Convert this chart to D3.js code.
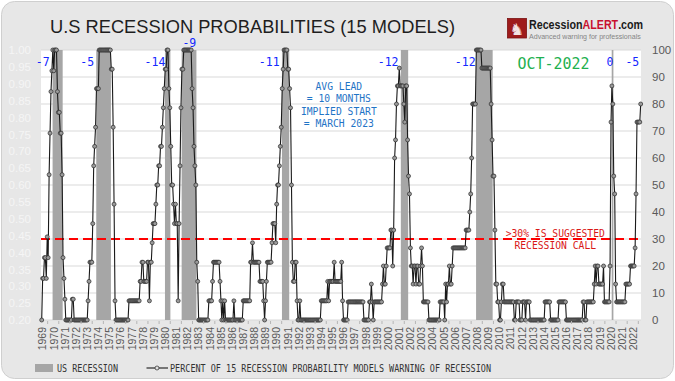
<!DOCTYPE html>
<html><head><meta charset="utf-8">
<script src="https://cdn.jsdelivr.net/npm/d3@7"></script>
<style>html,body{margin:0;padding:0;background:#fff;} svg{display:block;}</style>
</head><body><svg id="c" width="675" height="381"></svg>
<script>
// ---------------- DATA (monthly, % of models warning) ----------------
const startMonth = "1969-01";
const pct1969 = [0, 15.4, 15.4, 23.1, 23.1, 15.4, 30.8, 23.1, 53.8, 69.2, 84.6, 92.3];
const pct1970s = [
  100, 92.3, 100, 100, 100, 84.6, 76.9, 76.9, 69.2, 69.2, 53.8, 23.1,   // 1970
  15.4, 7.7, 0, 0, 0, 0, 0, 0, 0, 7.7, 7.7, 0,                         // 1971
  0, 0, 0, 0, 0, 0, 0, 0, 0, 0, 0, 0,                                  // 1972
  0, 0, 7.1, 14.3, 21.4, 21.4, 21.4, 35.7, 57.1, 64.3, 71.4, 85.7,     // 1973
  85.7, 85.7, 100, 100, 100, 100, 100, 100, 100, 100, 100, 100,        // 1974
  100, 100, 100, 92.9, 92.9, 71.4, 42.9, 7.1, 0, 0, 0, 0,              // 1975
  0, 0, 0, 0, 0, 0, 0, 0, 0, 0, 7.1, 7.1,                              // 1976
  7.1, 7.1, 7.1, 7.1, 7.1, 7.1, 7.1, 7.1, 7.1, 7.1, 14.3, 14.3,        // 1977
  21.4, 21.4, 14.3, 14.3, 14.3, 14.3, 21.4, 21.4, 7.1, 21.4, 21.4, 28.6, // 1978
  35.7, 35.7, 35.7, 42.9, 50, 50, 57.1, 57.1, 64.3, 64.3, 71.4, 78.6   // 1979
];
const pct1980s = [
  85.7, 92.9, 92.9, 100, 100, 85.7, 78.6, 64.3, 50, 50, 42.9, 35.7,    // 1980
  42.9, 35.7, 35.7, 7.1, 35.7, 57.1, 78.6, 92.9, 92.9, 100, 100, 100,  // 1981
  100, 100, 100, 100, 100, 100, 85.7, 78.6, 64.3, 57.1, 50, 21.4,      // 1982
  14.3, 0, 0, 0, 0, 0, 0, 0, 0, 0, 0, 0,                               // 1983
  7.1, 7.1, 7.1, 7.1, 14.3, 21.4, 21.4, 21.4, 21.4, 21.4, 21.4, 21.4,  // 1984
  14.3, 7.1, 0, 7.1, 0, 7.1, 0, 0, 0, 0, 0, 0,                         // 1985
  0, 0, 0, 7.1, 0, 0, 0, 0, 0, 0, 0, 0,                                // 1986
  0, 7.1, 7.1, 7.1, 7.1, 7.1, 7.1, 7.1, 7.1, 21.4, 21.4, 28.6,         // 1987
  21.4, 21.4, 21.4, 21.4, 21.4, 21.4, 21.4, 14.3, 14.3, 14.3, 14.3, 7.1, // 1988
  0, 7.1, 14.3, 21.4, 21.4, 21.4, 21.4, 21.4, 28.6, 35.7, 35.7, 35.7   // 1989
];
const pct1990s = [
  28.6, 42.9, 50, 50, 57.1, 64.3, 71.4, 85.7, 92.9, 100, 100, 100,     // 1990
  100, 92.9, 92.9, 85.7, 78.6, 50, 21.4, 14.3, 14.3, 21.4, 21.4, 7.1,  // 1991
  0, 0, 7.1, 0, 0, 0, 0, 0, 0, 0, 0, 0,                                // 1992
  0, 0, 0, 0, 0, 0, 0, 0, 0, 0, 0, 0,                                  // 1993
  0, 7.1, 7.1, 7.1, 7.1, 7.1, 7.1, 7.1, 14.3, 7.1, 14.3, 14.3,         // 1994
  14.3, 14.3, 14.3, 21.4, 14.3, 14.3, 14.3, 14.3, 14.3, 14.3, 14.3, 21.4, // 1995
  7.1, 0, 0, 0, 0, 0, 6.7, 6.7, 6.7, 6.7, 6.7, 6.7,                    // 1996
  6.7, 6.7, 6.7, 6.7, 6.7, 6.7, 6.7, 6.7, 6.7, 6.7, 6.7, 0,            // 1997
  0, 0, 0, 0, 0, 6.7, 6.7, 13.3, 6.7, 0, 6.7, 6.7,                     // 1998
  6.7, 6.7, 6.7, 6.7, 6.7, 6.7, 6.7, 13.3, 20, 13.3, 13.3, 20          // 1999
];
const pct2000s = [
  26.7, 26.7, 26.7, 26.7, 33.3, 33.3, 20, 33.3, 60, 66.7, 80, 86.7,    // 2000
  86.7, 93.3, 86.7, 86.7, 86.7, 86.7, 80, 73.3, 86.7, 86.7, 66.7, 53.3, // 2001
  46.7, 26.7, 20, 20, 13.3, 20, 20, 13.3, 20, 20, 13.3, 13.3,          // 2002
  20, 26.7, 20, 6.7, 6.7, 6.7, 6.7, 6.7, 6.7, 0, 0, 0,                 // 2003
  0, 0, 0, 0, 0, 0, 0, 0, 0, 6.7, 6.7, 6.7,                            // 2004
  6.7, 6.7, 0, 13.3, 6.7, 13.3, 13.3, 20, 13.3, 13.3, 20, 26.7,        // 2005
  26.7, 26.7, 26.7, 26.7, 26.7, 26.7, 26.7, 26.7, 26.7, 26.7, 26.7, 26.7, // 2006
  26.7, 33.3, 33.3, 33.3, 33.3, 40, 46.7, 60, 80, 80, 80, 80,          // 2007
  100, 100, 100, 100, 100, 100, 93.3, 93.3, 93.3, 93.3, 93.3, 93.3,    // 2008
  93.3, 93.3, 93.3, 93.3, 80, 66.7, 53.3, 53.3, 33.3, 13.3, 13.3, 6.7  // 2009
];
const pct2010s = [
  6.7, 0, 0, 6.7, 13.3, 13.3, 6.7, 6.7, 6.7, 6.7, 6.7, 6.7,            // 2010
  6.7, 6.7, 6.7, 6.7, 6.7, 0, 0, 6.7, 6.7, 6.7, 6.7, 0,                // 2011
  0, 0, 6.7, 6.7, 6.7, 0, 6.7, 6.7, 6.7, 6.7, 0, 0,                    // 2012
  0, 0, 0, 0, 0, 0, 0, 0, 0, 0, 0, 0,                                  // 2013
  0, 0, 6.7, 6.7, 6.7, 6.7, 6.7, 6.7, 0, 0, 0, 0,                      // 2014
  0, 0, 0, 0, 0, 6.7, 6.7, 6.7, 6.7, 6.7, 6.7, 6.7,                    // 2015
  6.7, 0, 0, 0, 0, 0, 0, 0, 0, 0, 0, 0,                                // 2016
  0, 0, 0, 0, 0, 0, 0, 6.7, 6.7, 0, 0, 6.7,                            // 2017
  6.7, 6.7, 6.7, 6.7, 6.7, 6.7, 6.7, 13.3, 20, 13.3, 20, 20,           // 2018
  13.3, 13.3, 13.3, 13.3, 13.3, 20, 6.7, 6.7, 6.7, 6.7, 6.7, 6.7       // 2019
];
const pct2020s = [
  20, 73.3, 86.7, 80, 53.3, 46.7, 13.3, 6.7, 6.7, 6.7, 6.7, 6.7,       // 2020
  6.7, 6.7, 6.7, 6.7, 6.7, 13.3, 13.3, 13.3, 13.3, 13.3, 20, 20,       // 2021
  20, 20, 20, 26.7, 46.7, 73.3, 73.3, 73.3, 73.3, 80                   // 2022 (to Oct)
];

const recessionStart = ["1969-12", "1973-11", "1980-01", "1981-07", "1990-07", "2001-03", "2007-12", "2020-02"];
const recessionEnd   = ["1970-11", "1975-03", "1980-07", "1982-11", "1991-03", "2001-11", "2009-06", "2020-04"];

const leadText  = ["-7", "-5", "-14", "-9", "-11", "-12", "-12", "0", "-5"];
const leadMonth = ["1969-02", "1973-02", "1979-03", "1982-04", "1989-06", "2000-02", "2007-01", "2020-01", "2022-01"];
const leadLevel = [94, 94, 94, 101, 94, 94, 94, 94, 94];

const leftTicks  = [0.20,0.25,0.30,0.35,0.40,0.45,0.50,0.55,0.60,0.65,0.70,0.75,0.80,0.85,0.90,0.95,1.00];
const rightTicks = [0,10,20,30,40,50,60,70,80,90,100];
const years = d3.range(1969, 2023);
const threshold = 30;

const titleText = "U.S RECESSION PROBABILITIES (15 MODELS)";
const noteLines = ["AVG LEAD", "= 10 MONTHS", "IMPLIED START", "= MARCH 2023"];
const callLines = [">30% IS SUGGESTED", "RECESSION CALL"];
const dateStamp = "OCT-2022";
const legendBand = "US RECESSION";
const legendLine = "PERCENT OF 15 RECESSION PROBABILITY MODELS WARNING OF RECESSION";
const logoParts = ["Recession", "ALERT", ".com"];
const logoTagline = "Advanced warning for professionals";

// ---------------- BUILD ----------------
const values = [].concat(pct1969, pct1970s, pct1980s, pct1990s, pct2000s, pct2010s, pct2020s);
const parse = d3.utcParse("%Y-%m");
const t0 = parse(startMonth);
const data = values.map((v, i) => ({ date: d3.utcMonth.offset(t0, i), v }));

const svg = d3.select("#c");
const W = 675, H = 381;
const P = { l: 41, r: 641, t: 50, b: 320 };

const x = d3.scaleUtc().domain([data[0].date, data[data.length - 1].date]).range([41.7, 640.7]);
const yR = d3.scaleLinear().domain([0, 100]).range([P.b, P.t]);
const yL = d3.scaleLinear().domain([0.2, 1.0]).range([P.b, P.t]);
const mw = (x.range()[1] - x.range()[0]) / (data.length - 1);

// background card
svg.append("rect").attr("x", 1.5).attr("y", 1.5).attr("width", W - 3).attr("height", H - 4)
  .attr("rx", 13).attr("fill", "#e7e7e7").attr("stroke", "#cfcfcf").attr("stroke-width", 1);

// plot background
svg.append("rect").attr("x", P.l).attr("y", P.t).attr("width", P.r - P.l).attr("height", P.b - P.t).attr("fill", "#fff");

// gridlines
svg.append("g").selectAll("line").data(rightTicks).join("line")
  .attr("x1", P.l).attr("x2", P.r).attr("y1", d => yR(d)).attr("y2", d => yR(d))
  .attr("stroke", "#d9d9d9").attr("stroke-width", 1);

// recession bands
svg.append("g").selectAll("rect").data(recessionStart.map((s, i) => [parse(s), parse(recessionEnd[i])])).join("rect")
  .attr("x", d => x(d[0]) + 0.75 * mw)
  .attr("width", d => x(d[1]) - x(d[0]) - 0.15 * mw)
  .attr("y", P.t).attr("height", P.b - P.t).attr("fill", "#a6a6a6");

// threshold line
svg.append("line").attr("x1", P.l).attr("x2", P.r).attr("y1", yR(threshold)).attr("y2", yR(threshold))
  .attr("stroke", "#ff0000").attr("stroke-width", 2).attr("stroke-dasharray", "9,5");

// series line + markers
const line = d3.line().x(d => x(d.date)).y(d => yR(d.v));
svg.append("path").datum(data).attr("d", line).attr("fill", "none").attr("stroke", "#1a1a1a").attr("stroke-width", 1.1);
svg.append("g").selectAll("circle").data(data).join("circle")
  .attr("cx", d => x(d.date)).attr("cy", d => yR(d.v)).attr("r", 2)
  .attr("fill", "#9a9a9a").attr("stroke", "#2a2a2a").attr("stroke-width", 0.7);

// axes
const axisFont = "'Liberation Sans', Arial, sans-serif";
const gR = svg.append("g").attr("transform", `translate(${P.r},0)`)
  .call(d3.axisRight(yR).tickValues(rightTicks).tickSize(0).tickPadding(11).tickFormat(d3.format("d")));
gR.select(".domain").remove();
gR.selectAll("text").attr("fill", "#595959").style("font-family", axisFont).style("font-size", "11.5px");

const gL = svg.append("g").attr("transform", `translate(${P.l},0)`)
  .call(d3.axisLeft(yL).tickValues(leftTicks).tickSize(0).tickPadding(10).tickFormat(d3.format(".2f")));
gL.select(".domain").remove();
gL.selectAll("text").attr("fill", "#f5f5f5").style("font-family", axisFont).style("font-size", "11.5px");

const gX = svg.append("g").attr("transform", `translate(0,${P.b})`)
  .call(d3.axisBottom(x).tickValues(years.map(y => new Date(Date.UTC(y, 0, 1)))).tickSize(0).tickFormat(d3.utcFormat("%Y")));
gX.select(".domain").remove();
gX.selectAll("text").attr("transform", "rotate(-90)").attr("x", -7).attr("y", 0.5).attr("dy", "0.35em")
  .attr("text-anchor", "end").attr("fill", "#595959").style("font-family", axisFont).style("font-size", "10.5px");
// small year ticks
svg.append("g").selectAll("line").data(years).join("line")
  .attr("x1", y => x(new Date(Date.UTC(y, 6, 15)))).attr("x2", y => x(new Date(Date.UTC(y, 6, 15))))
  .attr("y1", P.b + 1).attr("y2", P.b + 4).attr("stroke", "#b5b5b5").attr("stroke-width", 1);

// title
svg.append("text").attr("x", 50).attr("y", 33.3).text(titleText)
  .attr("textLength", 405).attr("lengthAdjust", "spacingAndGlyphs")
  .style("font-family", axisFont).style("font-size", "18.5px").attr("fill", "#1e1e1e");

// logo
svg.append("rect").attr("x", 507.5).attr("y", 18.5).attr("width", 19).attr("height", 19.5).attr("fill", "#9e1b1b").attr("stroke", "#7a1212").attr("stroke-width", 0.8);
svg.append("text").attr("x", 517).attr("y", 35).attr("text-anchor", "middle").text("\u265E")
  .style("font-family", "'DejaVu Sans', sans-serif").style("font-size", "16px").attr("fill", "#f3e3e3");
// fit a text horizontally into a target width by scaling its group
function fitText(g, width) {
  const n = g.select("text").node().getComputedTextLength();
  const sx = width / n;
  const tr = g.attr("data-tr");
  g.attr("transform", `${tr} scale(${sx},1)`);
}
const logoG = svg.append("g").attr("data-tr", "translate(529,29)").attr("transform", "translate(529,29)");
const logoT = logoG.append("text").attr("x", 0).attr("y", 0)
  .style("font-family", axisFont).style("font-size", "13.5px").style("font-weight", "bold");
const logoC = ["#1a1a1a", "#c8102e", "#1a1a1a"];
logoParts.forEach((p, i) => logoT.append("tspan").text(p).attr("fill", logoC[i]));
fitText(logoG, 113);
const tagG = svg.append("g").attr("data-tr", "translate(529,39.2)").attr("transform", "translate(529,39.2)");
tagG.append("text").attr("x", 0).attr("y", 0).text(logoTagline)
  .style("font-family", axisFont).style("font-size", "8px").attr("fill", "#858585");
fitText(tagG, 112);

// lead annotations
const mono = "'DejaVu Sans Mono', 'Liberation Mono', monospace";
svg.append("g").selectAll("text").data(leadText).join("text")
  .attr("x", (d, i) => x(parse(leadMonth[i]))).attr("y", (d, i) => yR(leadLevel[i]))
  .attr("text-anchor", "middle").text(d => d)
  .style("font-family", mono).style("font-size", "11.5px").attr("fill", "#1428ff");

// date stamp
svg.append("text").attr("x", x(parse("2014-12"))).attr("y", yR(93)).attr("text-anchor", "middle").text(dateStamp)
  .attr("textLength", 72).attr("lengthAdjust", "spacingAndGlyphs")
  .style("font-family", mono).style("font-size", "15px").attr("fill", "#1fb04f");

// average lead note
svg.append("g").selectAll("text").data(noteLines).join("text")
  .attr("x", x(parse("1995-09"))).attr("y", (d, i) => yR(85.2) + i * 12.5)
  .attr("text-anchor", "middle").text(d => d)
  .style("font-family", mono).style("font-size", "9.7px").attr("fill", "#1f74c6");

// threshold note
svg.append("g").selectAll("text").data(callLines).join("text")
  .attr("x", x(parse("2015-02"))).attr("y", (d, i) => yR(30.6) + i * 11.6)
  .attr("text-anchor", "middle").text(d => d)
  .style("font-family", mono).style("font-size", "9.7px").attr("fill", "#d91818");

// legend
svg.append("rect").attr("x", 35).attr("y", 364).attr("width", 18).attr("height", 8).attr("fill", "#a6a6a6");
svg.append("text").attr("x", 57).attr("y", 371.7).text(legendBand)
  .attr("textLength", 61).attr("lengthAdjust", "spacingAndGlyphs")
  .style("font-family", mono).style("font-size", "10.5px").attr("fill", "#333");
svg.append("line").attr("x1", 146.5).attr("x2", 168).attr("y1", 368).attr("y2", 368).attr("stroke", "#1a1a1a").attr("stroke-width", 1.1);
svg.append("circle").attr("cx", 157).attr("cy", 368).attr("r", 2).attr("fill", "#e0e0e0").attr("stroke", "#2a2a2a").attr("stroke-width", 0.7);
svg.append("text").attr("x", 170).attr("y", 371.7).text(legendLine)
  .attr("textLength", 321).attr("lengthAdjust", "spacingAndGlyphs")
  .style("font-family", mono).style("font-size", "10.5px").attr("fill", "#333");
</script>
</body></html>
